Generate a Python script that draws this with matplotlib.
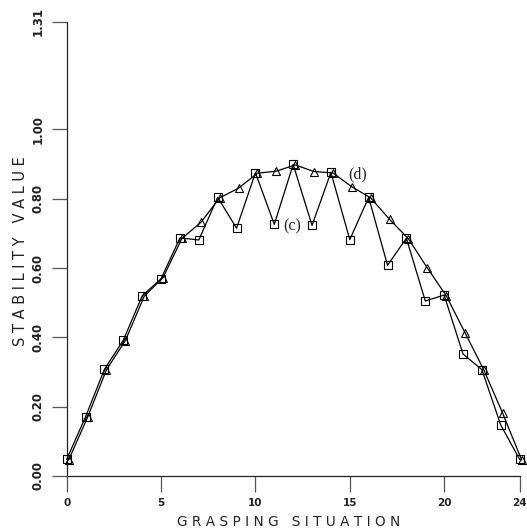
import matplotlib
matplotlib.use("Agg")
import matplotlib.pyplot as plt
from matplotlib.transforms import offset_copy

# grasping situations and stability values
situations = list(range(25))
stability_c = [0.048, 0.171, 0.308, 0.392, 0.520, 0.569, 0.687, 0.681, 0.804, 0.715,
               0.875, 0.726, 0.899, 0.723, 0.876, 0.682, 0.804, 0.608, 0.686, 0.505,
               0.522, 0.352, 0.307, 0.147, 0.048]
stability_d = [0.048, 0.171, 0.308, 0.392, 0.520, 0.574, 0.687, 0.733, 0.804, 0.832,
               0.875, 0.881, 0.899, 0.880, 0.876, 0.836, 0.804, 0.742, 0.686, 0.602,
               0.522, 0.415, 0.307, 0.182, 0.048]

x_ticks = [0, 5, 10, 15, 20, 24]
y_ticks = [0.0, 0.2, 0.4, 0.6, 0.8, 1.0, 1.31]
y_tick_labels = ["0.00", "0.20", "0.40", "0.60", "0.80", "1.00", "1.31"]

fig = plt.figure(figsize=(5.27, 5.31), dpi=100)
ax = fig.add_axes([0.1266, 0.1036, 0.8594, 0.855])

# series (c): squares
ax.plot(situations, stability_c, color="black", lw=0.9, marker="s", ms=5.5,
        mfc="none", mec="black", mew=0.8, clip_on=False, zorder=3)

# series (d): triangles, drawn a touch to the right like the original
tri_trans = offset_copy(ax.transData, fig=fig, x=2.0, y=-0.5, units="dots")
ax.plot(situations, stability_d, color="black", lw=0.9, marker="^", ms=6,
        mfc="none", mec="black", mew=0.8, clip_on=False, zorder=3,
        transform=tri_trans)

# curve labels
ax.text(11.94, 0.721, "(c)", family="Liberation Serif", fontsize=11.5,
        color="#222222", ha="center", va="center")
ax.text(15.41, 0.871, "(d)", family="Liberation Serif", fontsize=11.5,
        color="#222222", ha="center", va="center")

ax.set_xlim(0, 24)
ax.set_ylim(0, 1.31)

for side in ["top", "right"]:
    ax.spines[side].set_visible(False)
for side in ["left", "bottom"]:
    ax.spines[side].set_linewidth(0.9)
    ax.spines[side].set_color("#222222")

ax.set_xticks(x_ticks)
ax.set_xticklabels([str(t) for t in x_ticks], fontsize=7.5, fontweight="bold",
                   color="#222222")
ax.set_yticks(y_ticks)
ax.set_yticklabels(y_tick_labels, fontsize=8.5, fontweight="bold",
                   color="#222222", rotation=90, va="center")

ax.tick_params(axis="x", direction="out", length=11.5, width=0.9,
               color="#555555", pad=4.5)
ax.tick_params(axis="y", direction="out", length=10.8, width=0.9,
               color="#555555", pad=5)

ax.set_xlabel("G R A S P I N G   S I T U A T I O N", fontsize=9.8,
              color="#222222", va="center")
ax.xaxis.set_label_coords(0.491, -0.101)
ax.set_ylabel("S T A B I L I T Y   V A L U E", fontsize=10.5,
              color="#222222", va="center")
ax.yaxis.set_label_coords(-0.101, 0.495)

fig.savefig("out.png", dpi=100)
